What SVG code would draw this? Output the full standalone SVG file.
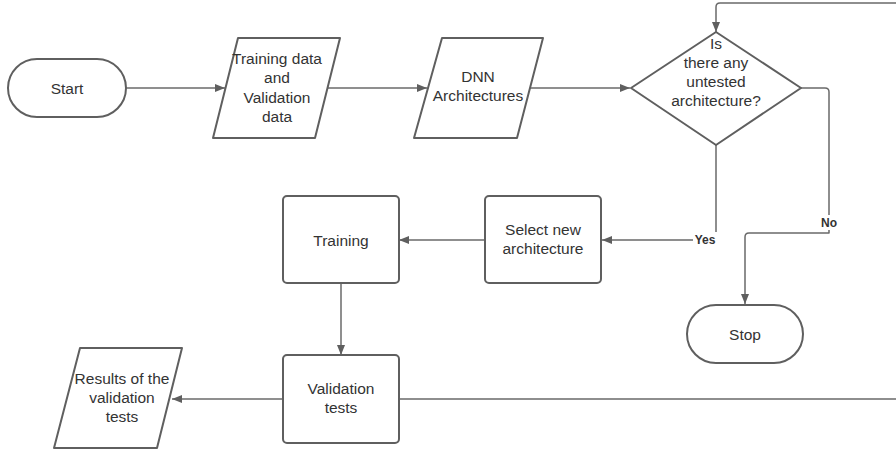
<svg xmlns="http://www.w3.org/2000/svg" width="896" height="454" viewBox="0 0 896 454">
<defs>
<marker id="ah" viewBox="0 0 10 10" refX="10" refY="5" markerWidth="10" markerHeight="10" markerUnits="userSpaceOnUse" orient="auto">
<path d="M0,1 L10,5 L0,9 Z" fill="#5f5f5f"/>
</marker>
<style>
.shape{fill:#ffffff;stroke:#5f5f5f;stroke-width:2;stroke-linejoin:round}
.conn{fill:none;stroke:#6a6a6a;stroke-width:1.5;stroke-linejoin:round}
.t{font-family:"Liberation Sans",Arial,sans-serif;font-size:15.5px;fill:#333333;text-anchor:middle;dominant-baseline:central}
.lbl{font-family:"Liberation Sans",Arial,sans-serif;font-size:12px;font-weight:bold;fill:#333333;text-anchor:middle;dominant-baseline:central}
</style>
</defs>
<rect width="896" height="454" fill="#ffffff"/>
<g id="connectors">
<path class="conn" d="M126,88 H225" marker-end="url(#ah)"/>
<path class="conn" d="M327,88 H427" marker-end="url(#ah)"/>
<path class="conn" d="M530,88 H630" marker-end="url(#ah)"/>
<path class="conn" d="M716,145 V240 H602" marker-end="url(#ah)"/>
<path class="conn" d="M801,88 H825 Q829,88 829,92 V233 H749 Q745,233 745,237 V304" marker-end="url(#ah)"/>
<path class="conn" d="M485,240 H399" marker-end="url(#ah)"/>
<path class="conn" d="M341,283 V355" marker-end="url(#ah)"/>
<path class="conn" d="M283,399 H172" marker-end="url(#ah)"/>
<path class="conn" d="M399,399 H905 V3 H720 Q716,3 716,7 V32" marker-end="url(#ah)"/>
<rect x="693" y="232" width="24" height="15" fill="#ffffff"/>
<text class="lbl" x="705" y="240">Yes</text>
<rect x="818" y="215" width="22" height="15" fill="#ffffff"/>
<text class="lbl" x="829" y="223">No</text>
</g>
<g id="start">
<rect class="shape" x="8" y="59" width="118" height="58" rx="29" ry="29"/>
<text class="t" x="67" y="88">Start</text>
</g>
<g id="training-data">
<path class="shape" d="M238,38 H340 L315,138 H213 Z"/>
<text class="t" x="277" y="58">Training data</text>
<text class="t" x="277" y="77">and</text>
<text class="t" x="277" y="97">Validation</text>
<text class="t" x="277" y="116">data</text>
</g>
<g id="dnn">
<path class="shape" d="M442,38 H543 L517,138 H414 Z"/>
<text class="t" x="478" y="76">DNN</text>
<text class="t" x="478" y="95">Architectures</text>
</g>
<g id="decision">
<path class="shape" d="M716,32 L801,88 L716,145 L631,88 Z"/>
<text class="t" x="716" y="43">Is</text>
<text class="t" x="716" y="62">there any</text>
<text class="t" x="716" y="81">untested</text>
<text class="t" x="716" y="100">architecture?</text>
</g>
<g id="select">
<rect class="shape" x="485" y="196" width="116" height="87" rx="4" ry="4"/>
<text class="t" x="543" y="229">Select new</text>
<text class="t" x="543" y="248">architecture</text>
</g>
<g id="training">
<rect class="shape" x="283" y="196" width="116" height="87" rx="4" ry="4"/>
<text class="t" x="341" y="240">Training</text>
</g>
<g id="validation">
<rect class="shape" x="283" y="355" width="116" height="88" rx="4" ry="4"/>
<text class="t" x="341" y="388">Validation</text>
<text class="t" x="341" y="407">tests</text>
</g>
<g id="results">
<path class="shape" d="M80,348 H182 L157,448 H54 Z"/>
<text class="t" x="122" y="378">Results of the</text>
<text class="t" x="122" y="397">validation</text>
<text class="t" x="122" y="416">tests</text>
</g>
<g id="stop">
<rect class="shape" x="687" y="305" width="116" height="58" rx="29" ry="29"/>
<text class="t" x="745" y="334">Stop</text>
</g>
</svg>
